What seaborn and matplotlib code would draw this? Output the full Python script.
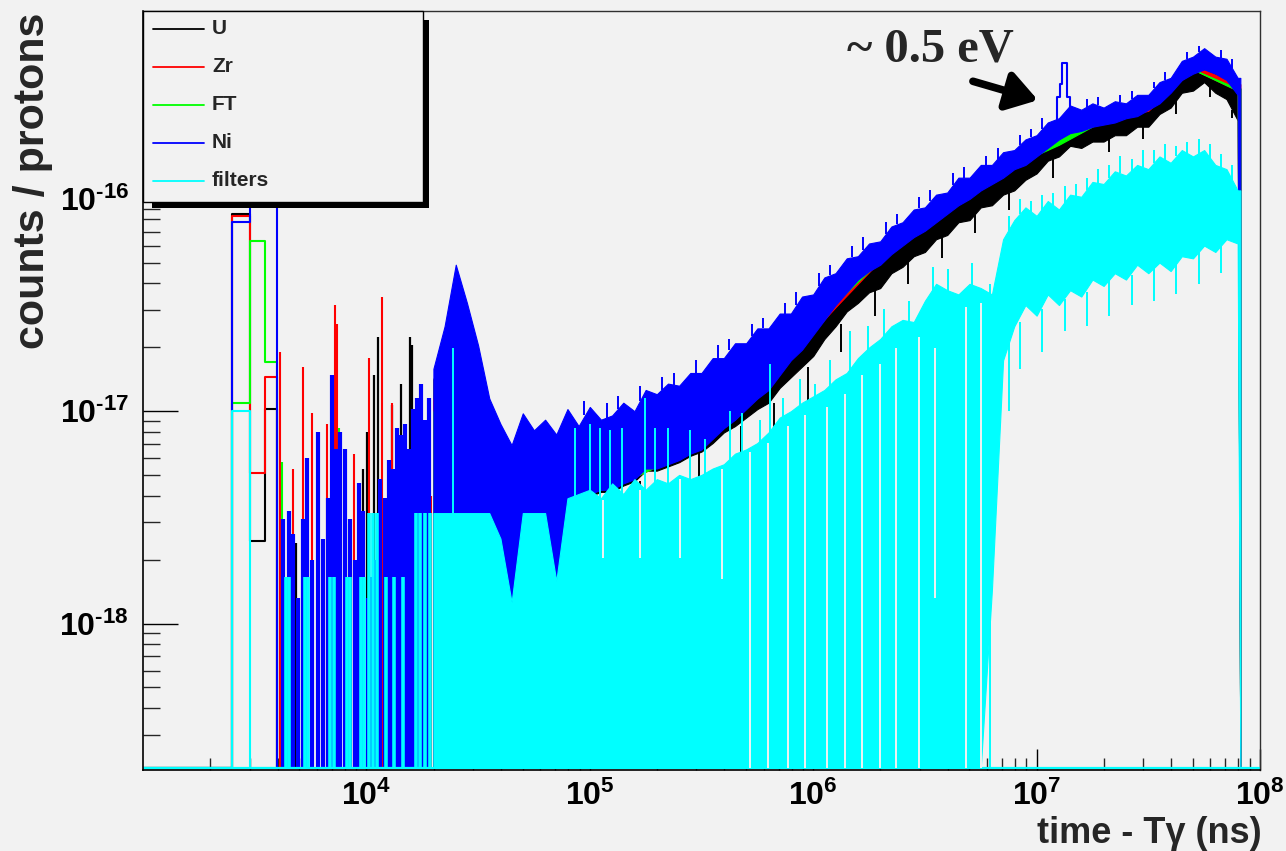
import numpy as np
import pandas as pd
import matplotlib
matplotlib.use("Agg")
import matplotlib.pyplot as plt
import seaborn as sns
from matplotlib.patches import Rectangle
from matplotlib.lines import Line2D
from matplotlib.ticker import LogLocator, NullFormatter

# ---------------- data (log10 of time in ns, log10 of counts/protons) ----------------
SERIES = ["U", "Zr", "FT", "Ni", "filters"]
COLORS = ["#000000", "#ff0000", "#00ff00", "#0000ff", "#00ffff"]
F = -18.68  # empty bins sit on the frame floor

# first wide bins (2.5-4 us)
BIN_LX = [3.000, 3.398, 3.477, 3.544, 3.602]
BIN_U = [F, -16.07, -17.61, -16.99, F]
BIN_ZR = [F, -16.08, -17.29, -16.84, F]
BIN_FT = [F, -16.96, -16.20, -16.77, F]
BIN_NI = [F, -16.11, -15.90, -15.90, F]
BIN_FI = [F, -17.00, F, F, F]

# isolated bins in the sparse region (4-20 us)
NI_SPK_LX = [3.627, 3.654, 3.671, 3.694, 3.716, 3.734, 3.756, 3.783, 3.806, 3.828, 3.846, 3.864,
             3.882, 3.904, 3.927, 3.949, 3.967, 3.985, 4.007, 4.025, 4.043, 4.061, 4.083, 4.101,
             4.119, 4.137, 4.155, 4.173, 4.191, 4.209, 4.227, 4.244, 4.262, 4.280]
NI_SPK_LY = [-17.51, -17.47, -17.58, -17.88, -17.51, -17.22, -17.70, -17.10, -17.60, -17.41, -16.83, -17.18,
             -17.10, -17.18, -17.51, -17.70, -17.34, -17.47, -17.88, -17.78, -17.70, -17.32, -17.41, -17.23,
             -17.27, -17.08, -17.11, -17.06, -17.18, -16.99, -16.94, -16.87, -17.04, -16.94]
ZR_SPK_LX = [3.613, 3.671, 3.716, 3.756, 3.824, 3.859, 3.868, 3.944, 4.012, 4.070, 4.115, 4.155, 4.231, 4.289]
ZR_SPK_LY = [-16.72, -17.27, -16.79, -17.01, -17.06, -16.50, -16.59, -17.20, -16.75, -16.46, -16.96, -17.13, -17.27, -17.40]
U_SPK_LX = [3.685, 3.783, 3.985, 4.003, 4.034, 4.052, 4.115, 4.155, 4.195, 4.204, 4.240]
U_SPK_LY = [-17.62, -17.98, -17.27, -17.10, -16.83, -16.65, -16.97, -16.87, -16.65, -16.69, -17.70]
FT_SPK_LX = [3.622, 3.877, 3.922, 4.227]
FT_SPK_LY = [-17.24, -17.08, -17.53, -17.20]
FI_SPK_LX = [3.640, 3.654, 3.725, 3.739, 3.837, 3.855, 3.913, 3.927, 3.976, 3.989, 4.012, 4.030,
             4.047, 4.088, 4.124, 4.164, 4.222, 4.240, 4.262, 4.285]
FI_SPK_LY = [-17.78, -17.78, -17.78, -17.78, -17.78, -17.78, -17.78, -17.78, -17.78, -17.78, -17.48, -17.48,
             -17.48, -17.78, -17.78, -17.78, -17.48, -17.48, -17.48, -17.48]
# single filters bins sticking out of the dense region
FI_SPK2_LX = [4.388, 4.934, 5.001, 5.046, 5.090, 5.144, 5.247, 5.292, 5.350, 5.449, 5.516, 5.628, 5.681,
              5.762, 5.807, 5.865, 5.941, 6.008, 6.075, 6.165, 6.245, 6.317, 6.429, 6.536, 6.603,
              6.711, 6.791]
FI_SPK2_LY = [-16.70, -17.08, -17.06, -17.08, -17.09, -17.08, -16.94, -17.08, -17.08, -17.09, -17.13, -17.00, -17.01,
              -17.04, -16.78, -16.94, -16.85, -16.87, -16.76, -16.62, -16.60, -16.52, -16.48, -16.32, -16.33,
              -16.30, -16.40]

# dense region: lower / upper envelope of the fluctuating bins
LOGX = [4.30, 4.35, 4.40, 4.45, 4.50, 4.55, 4.60, 4.65, 4.70, 4.75,
        4.80, 4.85, 4.90, 4.95, 5.00, 5.05, 5.10, 5.15, 5.20, 5.25,
        5.30, 5.35, 5.40, 5.45, 5.50, 5.55, 5.60, 5.65, 5.70, 5.75,
        5.80, 5.85, 5.90, 5.95, 6.00, 6.05, 6.10, 6.15, 6.20, 6.25,
        6.30, 6.35, 6.40, 6.45, 6.50, 6.55, 6.60, 6.65, 6.70, 6.75,
        6.80, 6.85, 6.90, 6.95, 7.00, 7.05, 7.10, 7.15, 7.20, 7.25,
        7.30, 7.35, 7.40, 7.45, 7.50, 7.55, 7.60, 7.65, 7.70, 7.75,
        7.80, 7.85, 7.90, 7.912]
NI_HI = [-16.80, -16.60, -16.31, -16.49, -16.69, -16.94, -17.06, -17.16, -17.01, -17.09,
         -17.04, -17.11, -16.99, -17.07, -16.98, -17.04, -17.02, -16.96, -17.00, -16.90,
         -16.92, -16.87, -16.88, -16.82, -16.82, -16.75, -16.75, -16.68, -16.68, -16.61,
         -16.61, -16.54, -16.54, -16.46, -16.45, -16.37, -16.35, -16.28, -16.27, -16.21,
         -16.20, -16.13, -16.11, -16.05, -16.04, -15.98, -15.97, -15.90, -15.90, -15.84,
         -15.84, -15.78, -15.77, -15.72, -15.70, -15.64, -15.62, -15.56, -15.58, -15.55,
         -15.57, -15.54, -15.55, -15.51, -15.51, -15.45, -15.43, -15.35, -15.33, -15.29,
         -15.33, -15.34, -15.43, -15.43]
NI_LO = [F, F, F, F, F, F, F, F, F, F,
         F, F, -17.41, -17.41, -17.39, -17.37, -17.37, -17.34, -17.32, -17.27,
         -17.27, -17.25, -17.23, -17.20, -17.18, -17.13, -17.08, -17.04, -16.99, -16.94,
         -16.90, -16.83, -16.76, -16.71, -16.64, -16.57, -16.50, -16.44, -16.38, -16.34,
         -16.31, -16.26, -16.22, -16.18, -16.15, -16.11, -16.07, -16.03, -16.00, -15.96,
         -15.93, -15.90, -15.86, -15.84, -15.80, -15.76, -15.72, -15.69, -15.68, -15.66,
         -15.65, -15.64, -15.62, -15.61, -15.58, -15.55, -15.50, -15.44, -15.41, -15.39,
         -15.41, -15.44, -15.51, F]
U_HI = [-16.85, -16.68, -16.40, -16.55, -16.78, -17.00, -17.12, -17.25, -17.10, -17.15,
        -17.10, -17.18, -17.06, -17.12, -17.05, -17.09, -17.08, -17.03, -17.05, -16.97,
        -16.97, -16.93, -16.93, -16.88, -16.87, -16.81, -16.80, -16.74, -16.73, -16.67,
        -16.66, -16.60, -16.59, -16.52, -16.50, -16.43, -16.40, -16.34, -16.32, -16.27,
        -16.25, -16.19, -16.16, -16.11, -16.09, -16.04, -16.02, -15.96, -15.95, -15.90,
        -15.89, -15.84, -15.82, -15.78, -15.76, -15.70, -15.68, -15.66, -15.64, -15.62,
        -15.62, -15.60, -15.59, -15.56, -15.55, -15.51, -15.48, -15.41, -15.39, -15.35,
        -15.38, -15.40, -15.48, -15.48]
U_LO = [F, F, F, F, F, F, F, F, F, F,
        F, F, -17.42, -17.42, -17.40, -17.38, -17.38, -17.35, -17.33, -17.28,
        -17.28, -17.26, -17.24, -17.21, -17.19, -17.15, -17.10, -17.07, -17.03, -16.99,
        -16.96, -16.89, -16.84, -16.79, -16.74, -16.66, -16.60, -16.53, -16.49, -16.44,
        -16.42, -16.35, -16.32, -16.27, -16.25, -16.19, -16.17, -16.11, -16.10, -16.04,
        -16.03, -15.98, -15.96, -15.91, -15.88, -15.82, -15.80, -15.75, -15.76, -15.73,
        -15.73, -15.70, -15.70, -15.66, -15.66, -15.60, -15.57, -15.50, -15.49, -15.45,
        -15.50, -15.53, -15.63, F]
FI_HI = [-17.48, -17.48, -17.48, -17.48, -17.48, -17.48, -17.60, -17.90, -17.48, -17.48,
         -17.48, -17.80, -17.41, -17.39, -17.37, -17.41, -17.34, -17.39, -17.32, -17.37,
         -17.32, -17.34, -17.30, -17.32, -17.30, -17.27, -17.25, -17.20, -17.18, -17.15,
         -17.10, -17.03, -17.00, -16.96, -16.93, -16.90, -16.85, -16.82, -16.75, -16.70,
         -16.66, -16.60, -16.57, -16.58, -16.48, -16.40, -16.43, -16.45, -16.40, -16.42,
         -16.45, -16.19, -16.10, -16.04, -16.08, -16.01, -16.05, -15.98, -15.99, -15.92,
         -15.93, -15.87, -15.89, -15.84, -15.86, -15.80, -15.83, -15.77, -15.80, -15.77,
         -15.84, -15.86, -15.96, -15.96]
FI_LO = [F, F, F, F, F, F, F, F, F, F,
         F, F, F, F, F, F, F, F, F, F,
         F, F, F, F, F, F, F, F, F, F,
         F, F, F, F, F, F, F, F, F, F,
         F, F, F, F, F, F, F, F, F, F,
         -17.84, -16.76, -16.60, -16.50, -16.55, -16.45, -16.50, -16.43, -16.46, -16.38,
         -16.41, -16.35, -16.38, -16.31, -16.35, -16.30, -16.34, -16.27, -16.28, -16.22,
         -16.25, -16.19, -16.21, F]

RG_LOGX = [4.3, 4.5, 4.7, 4.9, 5.1, 5.3, 5.5, 5.7, 5.9, 6.1, 6.3, 6.5, 6.7, 6.9, 7.1, 7.3, 7.5, 7.7, 7.9, 7.912]
ZR_HI = [-16.94, -17.00, -17.25, -17.11, -17.08, -16.97, -16.87, -16.73, -16.58, -16.39,
         -16.24, -16.08, -15.95, -15.81, -15.65, -15.61, -15.55, -15.37, -15.46, -15.46]
ZR_LO = [F, F, F, -17.40, -17.36, -17.26, -17.17, -16.98, -16.74, -16.51,
         -16.29, -16.13, -15.98, -15.84, -15.71, -15.63, -15.585, -15.39, -15.49, F]
FT_HI = [-17.00, -17.05, -17.30, -17.20, -17.15, -17.05, -16.95, -16.80, -16.65, -16.45,
         -16.28, -16.12, -15.98, -15.85, -15.68, -15.64, -15.57, -15.39, -15.48, -15.48]
FT_LO = [F, F, F, -17.40, -17.36, -17.26, -17.17, -16.98, -16.74, -16.49,
         -16.29, -16.13, -15.98, -15.84, -15.745, -15.63, -15.57, -15.39, -15.49, F]

# bins poking out of the dense bands (x, inner end, outer end)
NI_UP_LX = [4.975, 5.075, 5.125, 5.225, 5.325, 5.375, 5.475, 5.575, 5.625, 5.725, 5.775, 5.875,
            5.925, 6.025, 6.075, 6.175, 6.225, 6.325, 6.375, 6.475, 6.525, 6.625, 6.675, 6.775,
            6.825, 6.925, 6.975, 7.025, 7.225, 7.275, 7.375, 7.425, 7.525, 7.575, 7.675, 7.725,
            7.825, 7.875]
NI_UP_IN = [-17.02, -17.03, -16.99, -16.95, -16.90, -16.875, -16.82, -16.75, -16.71, -16.645, -16.61, -16.54,
            -16.50, -16.41, -16.36, -16.275, -16.24, -16.165, -16.12, -16.045, -16.01, -15.935, -15.90, -15.84,
            -15.81, -15.745, -15.71, -15.67, -15.565, -15.56, -15.545, -15.53, -15.48, -15.44, -15.34, -15.31,
            -15.335, -15.385]
NI_UP_OUT = [-16.95, -16.96, -16.93, -16.88, -16.84, -16.82, -16.76, -16.69, -16.66, -16.59, -16.56, -16.49,
             -16.44, -16.35, -16.31, -16.22, -16.18, -16.11, -16.07, -15.99, -15.96, -15.88, -15.85, -15.80,
             -15.76, -15.70, -15.67, -15.62, -15.53, -15.52, -15.51, -15.49, -15.45, -15.40, -15.31, -15.28,
             -15.30, -15.34]
U_DN_LX = [5.225, 5.490, 5.675, 5.825, 5.975, 6.125, 6.275, 6.425, 6.575, 6.725, 6.875, 7.075, 7.325,
           7.475, 7.625, 7.775, 7.875]
U_DN_IN = [-17.33, -17.19, -17.07, -16.96, -16.79, -16.59, -16.43, -16.29, -16.18, -16.07, -15.97, -15.81, -15.71,
           -15.66, -15.53, -15.47, -15.58]
U_DN_OUT = [-17.47, -17.47, -17.30, -17.15, -16.95, -16.72, -16.55, -16.40, -16.28, -16.16, -16.05, -15.90, -15.78,
            -15.72, -15.60, -15.52, -15.62]
FI_UP_LX = [6.875, 6.925, 6.975, 7.025, 7.075, 7.125, 7.175, 7.225, 7.275, 7.325, 7.375, 7.425,
            7.475, 7.525, 7.575, 7.625, 7.675, 7.725, 7.775, 7.825, 7.875]
FI_UP_IN = [-16.15, -16.07, -16.06, -16.05, -16.03, -16.02, -15.99, -15.96, -15.93, -15.90, -15.88, -15.87,
            -15.85, -15.83, -15.82, -15.80, -15.79, -15.79, -15.81, -15.85, -15.91]
FI_UP_OUT = [-16.08, -16.00, -16.01, -15.98, -15.97, -15.94, -15.93, -15.90, -15.86, -15.84, -15.80, -15.81,
             -15.77, -15.77, -15.74, -15.75, -15.73, -15.72, -15.74, -15.79, -15.84]
FI_DN_LX = [6.875, 6.925, 7.025, 7.125, 7.225, 7.325, 7.425, 7.525, 7.625, 7.725, 7.825]
FI_DN_IN = [-16.68, -16.58, -16.52, -16.47, -16.44, -16.38, -16.36, -16.32, -16.30, -16.25, -16.22]
FI_DN_OUT = [-17.00, -16.80, -16.72, -16.62, -16.60, -16.55, -16.50, -16.48, -16.45, -16.40, -16.35]

# ~0.5 eV resonance seen by the Ni sample
RES_LX = [7.073, 7.091, 7.096, 7.109, 7.118, 7.132, 7.141, 7.154, 7.172]
RES_LY = [-15.69, -15.65, -15.52, -15.46, -15.36, -15.36, -15.52, -15.58, -15.61]

# empty bins inside the filters histogram
GAP_LX = [5.059, 5.225, 5.404, 5.592, 5.717, 5.798, 5.887, 5.963, 6.062, 6.142, 6.218, 6.299,
          6.371, 6.474, 6.545, 6.684, 6.751]
GAP_TOP = [-17.42, -17.37, -17.32, -17.27, -17.19, -17.15, -17.07, -17.02, -16.98, -16.92, -16.83, -16.78,
           -16.70, -16.65, -16.70, -16.51, -16.49]
GAP_BOT = [-17.69, -17.69, -17.69, -17.79, F, F, F, F, F, F, F, F, F, F, -17.88, F, F]

# ---------------- style ----------------
W, H = 1286, 851
BG = "#f2f2f2"
sns.set_theme(style="ticks")
plt.rcParams.update({
    "font.family": ["Liberation Sans", "DejaVu Sans"],
    "font.weight": "bold",
    "mathtext.fontset": "custom",
    "mathtext.rm": "Liberation Sans:bold",
    "mathtext.bf": "Liberation Sans:bold",
    "mathtext.it": "Liberation Sans:bold",
    "mathtext.sf": "Liberation Sans:bold",
    "mathtext.default": "bf",
    "figure.facecolor": BG,
    "axes.facecolor": BG,
    "savefig.facecolor": BG,
})

fig = plt.figure(figsize=(W / 100, H / 100), dpi=100)
ax = fig.add_axes([143 / W, 81 / H, 1117 / W, 759 / H])
ax.set_xscale("log")
ax.set_yscale("log")
ax.set_xlim(1e3, 1e8)
ax.set_ylim(10 ** -18.69, 10 ** -15.115)

p = lambda a: 10.0 ** np.asarray(a, dtype=float)
ZBASE = {"U": 2.0, "Zr": 2.1, "FT": 2.2, "Ni": 2.3, "filters": 2.4}
col = dict(zip(SERIES, COLORS))

bins = {"U": BIN_U, "Zr": BIN_ZR, "FT": BIN_FT, "Ni": BIN_NI, "filters": BIN_FI}
spikes = {"U": (U_SPK_LX, U_SPK_LY, 1.6), "Zr": (ZR_SPK_LX, ZR_SPK_LY, 1.5),
          "FT": (FT_SPK_LX, FT_SPK_LY, 1.5), "Ni": (NI_SPK_LX, NI_SPK_LY, 3.0),
          "filters": (FI_SPK_LX, FI_SPK_LY, 2.6)}
bands = {"U": (LOGX, U_LO, U_HI), "Zr": (RG_LOGX, ZR_LO, ZR_HI), "FT": (RG_LOGX, FT_LO, FT_HI),
         "Ni": (LOGX, NI_LO, NI_HI), "filters": (LOGX, FI_LO, FI_HI)}
pokes = {"U": [(U_DN_LX, U_DN_IN, U_DN_OUT)],
         "Ni": [(NI_UP_LX, NI_UP_IN, NI_UP_OUT)],
         "filters": [(FI_UP_LX, FI_UP_IN, FI_UP_OUT), (FI_DN_LX, FI_DN_IN, FI_DN_OUT),
                     (FI_SPK2_LX, [F] * len(FI_SPK2_LX), FI_SPK2_LY)]}

for s in SERIES:
    z = ZBASE[s]
    c = col[s]
    df = pd.DataFrame({"t": p(BIN_LX), "v": p(bins[s])})
    sns.lineplot(data=df, x="t", y="v", color=c, lw=1.5, drawstyle="steps-post",
                 estimator=None, sort=False, legend=False, ax=ax, zorder=z)
    sx, sy, lw = spikes[s]
    ax.vlines(p(sx), 10 ** F, p(sy), color=c, lw=lw, zorder=z)
    bx, blo, bhi = bands[s]
    ax.fill_between(p(bx), p(blo), p(bhi), color=c, lw=0.8, edgecolor=c, zorder=z)
    for (px_, pin, pout) in pokes.get(s, []):
        ax.vlines(p(px_), p(pin), p(pout), color=c, lw=1.4, zorder=z)
    if s == "Ni":
        df_r = pd.DataFrame({"t": p(RES_LX), "v": p(RES_LY)})
        sns.lineplot(data=df_r, x="t", y="v", color=c, lw=1.5, drawstyle="steps-mid",
                     estimator=None, sort=False, legend=False, ax=ax, zorder=z + 0.05)

ax.axhline(10 ** F, color=col["filters"], lw=1.6, zorder=ZBASE["filters"])
ax.vlines(p(GAP_LX), p(GAP_BOT), p(GAP_TOP), color=BG, lw=1.4, zorder=2.5)

# ---------------- axes ----------------
ax.set_xticks([1e4, 1e5, 1e6, 1e7, 1e8],
              labels=[r"$10^{4}$", r"$10^{5}$", r"$10^{6}$", r"$10^{7}$", r"$10^{8}$"])
ax.set_yticks([1e-18, 1e-17, 1e-16],
              labels=[r"$10^{\text{-}18}$", r"$10^{\text{-}17}$", r"$10^{\text{-}16}$"])
ax.xaxis.set_minor_locator(LogLocator(base=10, subs=np.arange(2, 10), numticks=100))
ax.yaxis.set_minor_locator(LogLocator(base=10, subs=np.arange(2, 10), numticks=100))
ax.xaxis.set_minor_formatter(NullFormatter())
ax.yaxis.set_minor_formatter(NullFormatter())
ax.set_xlim(1e3, 1e8)
ax.set_ylim(10 ** -18.69, 10 ** -15.115)
ax.tick_params(axis="x", which="major", direction="in", length=15, width=1.0,
               labelsize=23, pad=8, colors="black")
ax.tick_params(axis="x", which="minor", direction="in", length=8.5, width=1.0)
ax.tick_params(axis="y", which="major", direction="in", length=25, width=1.0,
               labelsize=23, pad=10, colors="black")
ax.tick_params(axis="y", which="minor", direction="in", length=12, width=1.0)
ax.tick_params(top=False, right=False, which="both")
for side in ["left", "bottom"]:
    ax.spines[side].set_color("black")
    ax.spines[side].set_linewidth(1.2)
for side in ["top", "right"]:
    ax.spines[side].set_color("#303030")
    ax.spines[side].set_linewidth(1.0)
ax.set_xlabel("")
ax.set_ylabel("")

fx = lambda x: x / W
fy = lambda y: 1 - y / H

fig.text(fx(33), fy(13), "counts / protons", rotation=90, ha="center", va="top",
         fontsize=31, fontweight="bold")
fig.text(fx(1262), fy(843), "time - T\u03b3 (ns)", ha="right", va="baseline",
         fontsize=26, fontweight="bold")

# ---------------- legend ----------------
fig.add_artist(Rectangle((fx(152), fy(208)), (429 - 152) / W, (208 - 20) / H,
                         transform=fig.transFigure, facecolor="black", edgecolor="none", zorder=5))
fig.add_artist(Rectangle((fx(143), fy(202)), 280 / W, 191 / H, transform=fig.transFigure,
                         facecolor=BG, edgecolor="black", lw=1.0, zorder=6))
rows = [29, 67, 105, 143, 181]
for s, c, r in zip(SERIES, COLORS, rows):
    fig.add_artist(Line2D([fx(153), fx(204)], [fy(r), fy(r)], transform=fig.transFigure,
                          color=c, lw=1.3, zorder=7))
    t = fig.text(fx(212), fy(r), s, ha="left", va="center", fontsize=15, fontweight="bold")
    t.set_zorder(8)

# ---------------- annotation ----------------
fig.text(fx(847), fy(61), "~ 0.5 eV", ha="left", va="baseline", fontsize=35,
         fontweight="bold", family=["Liberation Serif", "DejaVu Serif"])
ax.annotate("", xy=(10 ** 7.006, 10 ** -15.535), xytext=(10 ** 6.715, 10 ** -15.446),
            arrowprops=dict(arrowstyle="-|>,head_length=0.65,head_width=0.42", lw=5.5,
                            color="black", mutation_scale=28, shrinkA=0, shrinkB=0),
            zorder=9)

fig.savefig("out.png", dpi=100, facecolor=BG)
